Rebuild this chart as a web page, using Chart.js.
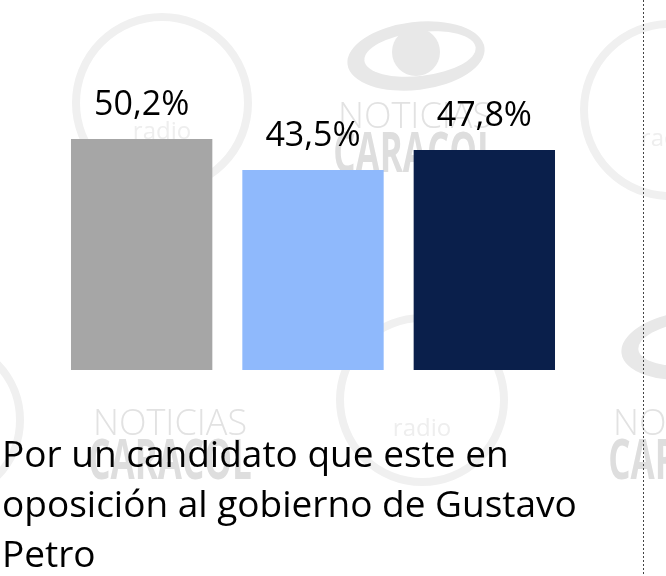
<!DOCTYPE html>
<html>
<head>
<meta charset="utf-8">
<script src="https://cdn.jsdelivr.net/npm/chart.js@4/dist/chart.umd.min.js"></script>
<style>
  html, body { margin: 0; padding: 0; background: #fff; }
  #wrap { width: 666px; height: 576px; position: relative; }
</style>
</head>
<body>
<div id="wrap"><canvas id="myChart" width="666" height="576"></canvas></div>
<script>
var categories = ['Total', 'Grupo 2', 'Grupo 3'];
var values = [50.2, 43.5, 47.8];
var valueLabels = ['50,2%', '43,5%', '47,8%'];
var barColors = ['#a6a6a6', '#8fb9fc', '#0a1f4b'];
var titleLines = ['Por un candidato que este en', 'oposición al gobierno de Gustavo', 'Petro'];

var FONT = '"Open Sans", sans-serif';

// faint logos in the background
function caracolEye(c, x, y) {
    c.fillStyle = '#e8e8e8';
    c.beginPath();
    c.ellipse(x, y, 69, 34, -0.12, 0, Math.PI * 2);
    c.fill();
    c.fillStyle = '#fff';
    c.beginPath();
    c.ellipse(x + 4, y - 2, 56, 22, -0.12, 0, Math.PI * 2);
    c.fill();
    c.fillStyle = '#e8e8e8';
    c.beginPath();
    c.arc(x, y - 4, 24, 0, Math.PI * 2);
    c.fill();
}

function caracolText(c, x, y) {
    c.save();
    c.textAlign = 'center';
    c.fillStyle = '#e2e2e2';
    c.font = '300 36px ' + FONT;
    c.fillText('NOTICIAS', x, y);
    c.translate(x, y + 44);
    c.scale(0.7, 1.1);
    c.font = 'bold 50px ' + FONT;
    c.fillStyle = '#dedede';
    c.fillText('CARACOL', 0, 0);
    c.restore();
}

function bluCircle(c, x, y, r) {
    c.save();
    c.strokeStyle = '#f0f0f0';
    c.lineWidth = 8;
    c.beginPath();
    c.arc(x, y, r, 0, Math.PI * 2);
    c.stroke();
    c.fillStyle = '#eeeeee';
    c.textAlign = 'center';
    c.font = '24px ' + FONT;
    c.fillText('radio', x, y + 36);
    c.restore();
}

var watermark = {
    id: 'watermark',
    beforeDraw: function (chart) {
        var c = chart.ctx;
        c.save();
        bluCircle(c, 162, 103, 86);
        bluCircle(c, 422, 400, 82);
        bluCircle(c, 670, 110, 86);
        bluCircle(c, -60, 420, 80);
        caracolEye(c, 416, 56);
        caracolEye(c, 690, 345);
        caracolText(c, 415, 128);
        caracolText(c, 170, 435);
        caracolText(c, 690, 435);
        c.restore();
    }
};

var extras = {
    id: 'extras',
    afterDraw: function (chart) {
        var c = chart.ctx;
        var meta = chart.getDatasetMeta(0);
        c.save();
        c.fillStyle = '#000';
        c.textAlign = 'center';
        c.textBaseline = 'alphabetic';
        c.font = '34px ' + FONT;
        meta.data.forEach(function (bar, i) {
            c.fillText(valueLabels[i], bar.x, bar.y - 24);
        });
        c.textAlign = 'left';
        c.font = '37px ' + FONT;
        titleLines.forEach(function (line, i) {
            c.fillText(line, 2, 467 + i * 50);
        });
        // dotted divider on the right
        c.strokeStyle = '#444';
        c.lineWidth = 1;
        c.setLineDash([2, 2]);
        c.beginPath();
        c.moveTo(643.5, 0);
        c.lineTo(643.5, 576);
        c.stroke();
        c.restore();
    }
};

var ctx = document.getElementById('myChart').getContext('2d');
var myChart = new Chart(ctx, {
    type: 'bar',
    data: {
        labels: categories,
        datasets: [{
            data: values,
            backgroundColor: barColors,
            borderWidth: 0,
            barPercentage: 0.825,
            categoryPercentage: 1
        }]
    },
    options: {
        responsive: false,
        animation: false,
        layout: {
            padding: { top: 94, bottom: 206, left: 56, right: 96 }
        },
        scales: {
            x: { display: false },
            y: { display: false, min: 0, max: 60 }
        },
        plugins: {
            legend: { display: false },
            tooltip: { enabled: false }
        }
    },
    plugins: [watermark, extras]
});
</script>
</body>
</html>
